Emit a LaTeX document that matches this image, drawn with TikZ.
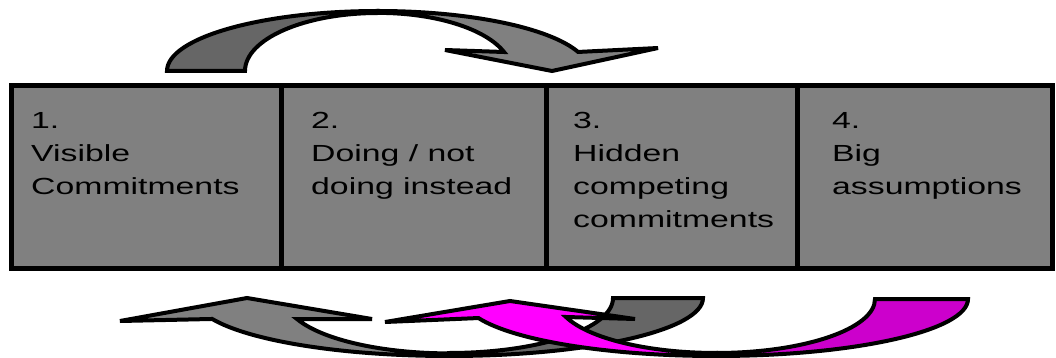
\documentclass[tikz,border=0pt]{standalone}
\usepackage{fontspec}
\setmainfont{Liberation Sans}
\usepackage{graphicx}
\usepackage{xcolor}
\definecolor{boxgray}{RGB}{128,128,128}
\definecolor{backgray}{RGB}{102,102,102}
\definecolor{frontmag}{RGB}{255,0,255}
\definecolor{backmag}{RGB}{204,0,204}
\usetikzlibrary{positioning, calc}
\newcommand{\stagetext}[1]{\scalebox{1.45}[1]{\begin{tabular}[t]{@{}l@{}}#1\end{tabular}}}

\begin{document}
\begin{tikzpicture}[x=1pt, y=-1pt,
    stage/.style={rectangle, draw, line width=5pt, fill=boxgray, minimum height=182pt,
      inner sep=0pt, outer sep=0pt, anchor=north west},
    stagetxt/.style={anchor=base west, inner sep=0pt, font=\fontsize{23.3}{33}\selectfont},
    curvedband/.style={draw, line width=4pt, line join=miter}
]
\useasboundingbox (0,0) rectangle (1056,358);
% the four stages
\node[stage, minimum width=270pt] (s1) at (11,86) {};
\node[stage, minimum width=265pt, right=0pt of s1] (s2) {};
\node[stage, minimum width=251pt, right=0pt of s2] (s3) {};
\node[stage, minimum width=255pt, right=0pt of s3] (s4) {};
\node[stagetxt] (t1) at ($(s1.north west)+(20,43)$) {\stagetext{1.\\Visible\\Commitments}};
\node[stagetxt] (t2) at ($(s2.north west)+(30,43)$) {\stagetext{2.\\Doing / not\\doing instead}};
\node[stagetxt] (t3) at ($(s3.north west)+(27,43)$) {\stagetext{3.\\Hidden\\competing\\commitments}};
\node[stagetxt] (t4) at ($(s4.north west)+(35,43)$) {\stagetext{4.\\Big\\assumptions}};
% upper curved arrow
\path[curvedband, fill=backgray] (167,71) arc[start angle=180, end angle=270, x radius=211, y radius=60]
  -- (378,13) arc[start angle=270, end angle=180, x radius=133, y radius=58] -- cycle;
\path[curvedband, fill=boxgray] (378,11) arc[start angle=270, end angle=341.5, x radius=211, y radius=60]
  -- (658,48) -- (552,71) -- (445,50) -- (504,52)
  arc[start angle=341, end angle=270, x radius=133, y radius=58] -- cycle;
% lower gray arrow
\path[curvedband, fill=backgray] (703,298) arc[start angle=0, end angle=90, x radius=254, y radius=58]
  -- (449,353) arc[start angle=90, end angle=0, x radius=164, y radius=55] -- cycle;
\path[curvedband, fill=boxgray] (449,356) arc[start angle=90, end angle=158.8, x radius=254, y radius=58]
  -- (120,321) -- (247,298) -- (372,319) -- (297,319)
  arc[start angle=158, end angle=90, x radius=164, y radius=55] -- cycle;
% lower magenta arrow
\path[curvedband, fill=backmag] (968,299) arc[start angle=0, end angle=90, x radius=252, y radius=57]
  -- (716,353) arc[start angle=90, end angle=0, x radius=159, y radius=54] -- cycle;
\path[curvedband, fill=frontmag] (716,356) arc[start angle=90, end angle=160.5, x radius=252, y radius=57]
  -- (385,322) -- (510,301) -- (635,319) -- (566,317)
  arc[start angle=160.5, end angle=90, x radius=159, y radius=54] -- cycle;
\end{tikzpicture}
\end{document}
